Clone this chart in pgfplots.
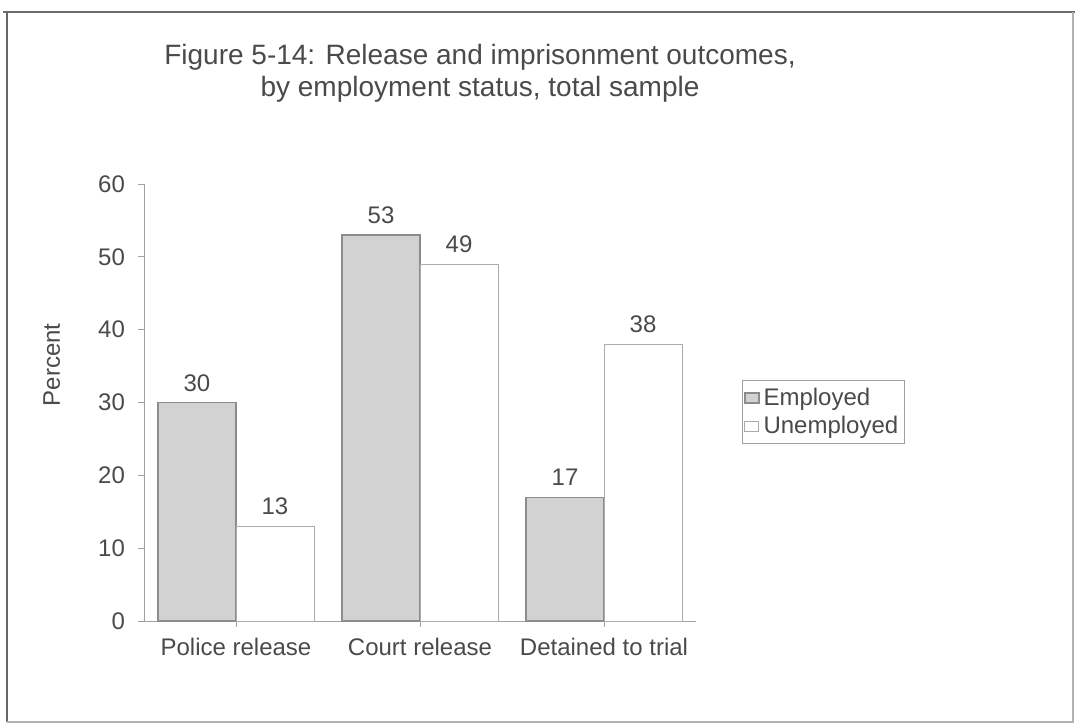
\documentclass[border=0pt]{standalone}
\usepackage{pgfplots}
\pgfplotsset{compat=1.18}
\usepackage{fontspec}
\setmainfont{Liberation Sans}
\definecolor{txt}{HTML}{4A4A4A}
\definecolor{axc}{HTML}{A0A0A0}
\definecolor{empfill}{HTML}{D2D2D2}
\definecolor{empedge}{HTML}{8C8C8C}
\definecolor{unedge}{HTML}{ABABAB}
\begin{document}
\begin{tikzpicture}
\useasboundingbox (0pt,0pt) rectangle (537.5pt,362.5pt);
% frame
\draw[color=gray!85!black, line width=1.2pt] (1.5pt,356.5pt) -- (537.5pt,356.5pt);
\draw[color=gray!80!black, line width=0.8pt] (3.5pt,356.5pt) -- (3.5pt,1.5pt);
\draw[color=gray!60, line width=0.6pt] (3.5pt,1.5pt) -- (536.5pt,1.5pt) -- (536.5pt,356.5pt);
\node[text=txt, font=\fontsize{14}{16}\selectfont, align=center] at (240pt,326pt)
  {Figure 5-14: Release and imprisonment outcomes,\\by employment status, total sample};
\begin{axis}[
  at={(72pt,52pt)}, anchor=south west,
  scale only axis, width=276pt, height=218.5pt,
  xmin=-0.5, xmax=2.5, ymin=0, ymax=60,
  ytick={0,10,...,60},
  xtick={0,1,2},
  xticklabels={Police release, Court release, Detained to trial},
  axis x line*=bottom, axis y line*=left,
  axis line style={color=axc, line width=0.5pt},
  every tick/.style={color=axc, line width=0.5pt},
  major tick length=3pt,
  tick align=outside,
  /pgf/number format/assume math mode=true,
  tick label style={text=txt, font=\fontsize{12}{14}\selectfont},
  xticklabel style={yshift=-2pt},
  yticklabel style={xshift=-3pt},
  ylabel={Percent},
  ylabel style={at={(rel axis cs:-0.167,0.586)}, anchor=center, text=txt, font=\fontsize{12}{14}\selectfont},
  ybar=0pt, bar width=39pt,
  nodes near coords,
  every node near coord/.append style={text=txt, font=\fontsize{12}{14}\selectfont, yshift=2pt},
  legend style={at={(rel axis cs:1.083,0.551)}, anchor=north west, draw=axc, line width=0.5pt,
    font=\fontsize{12}{14}\selectfont, text=txt, inner xsep=1pt, inner ysep=1.5pt, row sep=0pt},
  legend cell align=left,
  legend image code/.code={\draw[#1] (0pt,-2.5pt) rectangle (7pt,2.5pt);},
  clip=false,
]
\addplot[fill=empfill, draw=empedge, line width=0.6pt] coordinates {(0,30) (1,53) (2,17)};
\addplot[fill=white, draw=unedge, line width=0.5pt] coordinates {(0,13) (1,49) (2,38)};
\legend{Employed, Unemployed}
\end{axis}
\end{tikzpicture}
\end{document}
